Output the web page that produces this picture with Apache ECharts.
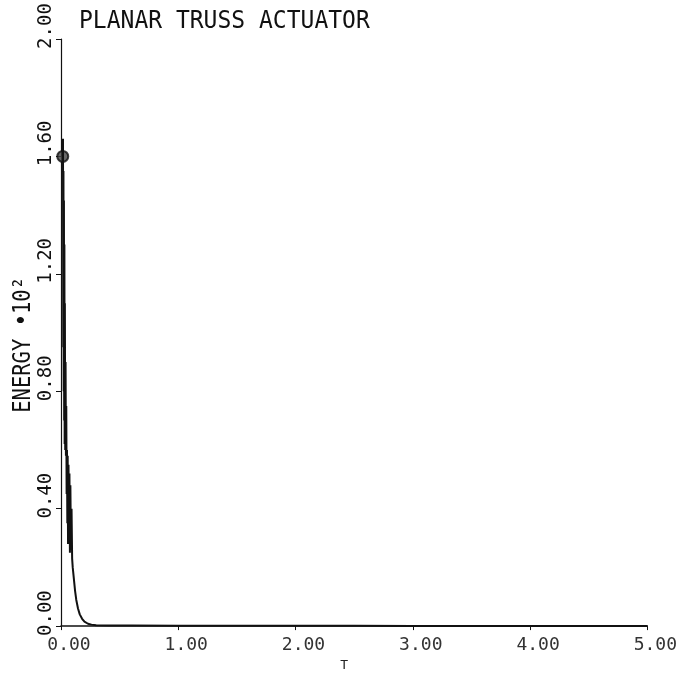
<!DOCTYPE html>
<html>
<head>
<meta charset="utf-8">
<script src="https://cdn.jsdelivr.net/npm/echarts@6/dist/echarts.min.js"></script>
<style>
    html, body { margin: 0; padding: 0; background: #fff; }
    #chart { width: 680px; height: 677px; }
</style>
</head>
<body>
<div id="chart"></div>
<script>
/** ---------------- 数据 ---------------- */
// 时间 T
var timeT = [0.015, 0.017, 0.019, 0.021, 0.023, 0.025, 0.027, 0.029, 0.031, 0.033,
    0.036, 0.039, 0.042, 0.045, 0.048, 0.051, 0.054, 0.057, 0.060, 0.064,
    0.068, 0.072, 0.076, 0.080, 0.085, 0.090, 0.095, 0.10, 0.11, 0.12,
    0.13, 0.145, 0.16, 0.18, 0.20, 0.23, 0.26, 0.30, 0.40, 0.60,
    1.00, 1.50, 2.00, 2.50, 3.00, 3.50, 4.00, 4.50, 5.00];
// 能量 *10^2
var energy = [1.60, 1.66, 0.95, 1.55, 0.80, 1.45, 0.70, 1.30, 0.62, 1.10,
    0.60, 0.90, 0.58, 0.75, 0.45, 0.60, 0.35, 0.58, 0.28, 0.55,
    0.30, 0.52, 0.25, 0.48, 0.26, 0.40, 0.23, 0.20, 0.16, 0.12,
    0.09, 0.06, 0.04, 0.025, 0.015, 0.008, 0.005, 0.003, 0.002, 0.002,
    0.001, 0.001, 0.001, 0.0008, 0.0006, 0.0005, 0.0005, 0.0004, 0.0003];
// 标记点
var markT = [0.015];
var markE = [1.60];
// 刻度
var xTicks = ['0.00', '1.00', '2.00', '3.00', '4.00', '5.00'];
var yTicks = ['0.00', '0.40', '0.80', '1.20', '1.60', '2.00'];

initChart();

function initChart() {
    var chart = echarts.init(document.getElementById('chart'));
    var fontName = 'DejaVu Sans Mono';
    var lineData = [];
    for (var i = 0; i < timeT.length; i++) {
        lineData.push([timeT[i], energy[i]]);
    }
    var markData = [];
    for (var k = 0; k < markT.length; k++) {
        markData.push([markT[k], markE[k]]);
    }

    var option = {
        backgroundColor: '#fff',
        animation: false,
        graphic: [{
            // 标题
            type: 'text',
            left: 79,
            top: 9,
            scaleX: 0.92,
            style: {
                text: 'PLANAR TRUSS ACTUATOR',
                fontFamily: fontName,
                fontSize: 25,
                fill: '#111'
            }
        }, {
            // 纵轴名称
            type: 'text',
            left: 11,
            top: 277,
            rotation: Math.PI / 2,
            scaleX: 0.82,
            style: {
                text: 'ENERGY •10²',
                fontFamily: fontName,
                fontSize: 25,
                fill: '#111'
            }
        }],
        grid: {
            left: 61,
            right: 32,
            top: 39,
            bottom: 49
        },
        xAxis: {
            type: 'value',
            min: 0,
            max: 5,
            interval: 1,
            name: 'T',
            nameLocation: 'middle',
            nameGap: 30,
            nameTextStyle: { fontFamily: fontName, fontSize: 13, color: '#222', padding: [0, 20, 0, 0] },
            axisLine: { onZero: false, lineStyle: { color: '#111', width: 1.5 } },
            axisTick: { show: true, inside: false, length: 4, lineStyle: { color: '#111' } },
            splitLine: { show: false },
            axisLabel: {
                margin: 10,
                fontFamily: fontName,
                fontSize: 18,
                color: '#333',
                padding: [0, 0, 0, 16],
                formatter: function (v) {
                    return xTicks[Math.round(v)];
                }
            }
        },
        yAxis: {
            type: 'value',
            min: 0,
            max: 2,
            interval: 0.4,
            axisLine: { show: true, lineStyle: { color: '#111', width: 1.2 } },
            axisTick: { show: true, inside: false, length: 5, lineStyle: { color: '#111' } },
            splitLine: { show: false },
            axisLabel: {
                rotate: 90,
                margin: 5,
                fontFamily: fontName,
                fontSize: 19,
                color: '#111',
                padding: [0, 0, 0, 26],
                formatter: function (v) {
                    return yTicks[Math.round(v / 0.4)];
                }
            }
        },
        series: [{
            type: 'line',
            data: lineData,
            showSymbol: false,
            lineStyle: { color: '#111', width: 2 }
        }, {
            type: 'scatter',
            data: markData,
            symbol: 'circle',
            symbolSize: 11,
            itemStyle: { color: '#444', borderColor: '#111', borderWidth: 2 }
        }]
    };
    chart.setOption(option);
}
</script>
</body>
</html>
